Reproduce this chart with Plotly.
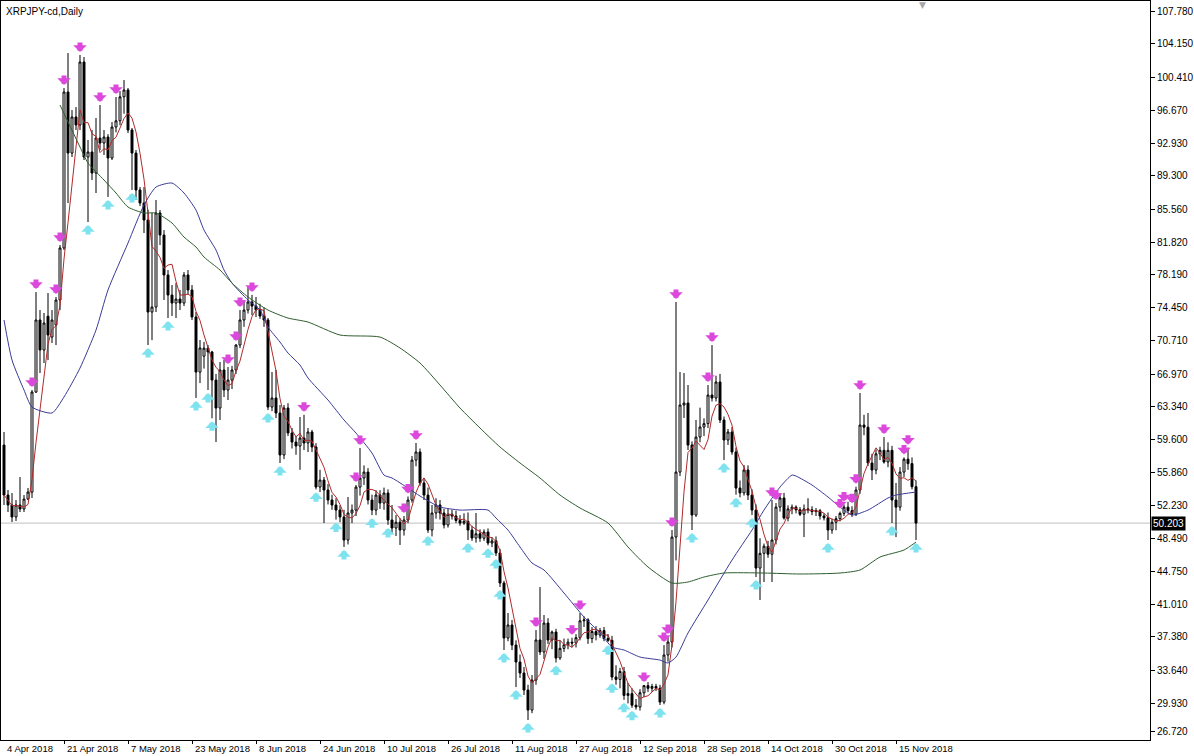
import pandas as pd
import plotly.graph_objects as go

# ---------------- data (XRPJPY daily, 6 Apr 2018 .. 20 Nov 2018) ----------------
start_date = "2018-04-06"
n_bars = 229

opens = [
58.99, 53.36, 52.24, 50.89, 52.24, 51.79, 52.91, 53.70, 64.96, 73.07,
69.69, 73.50, 71.15, 72.51, 75.32, 81.18, 98.74, 91.87, 95.93, 95.03,
102.12, 91.42, 91.99, 89.62, 93.56, 93.00, 93.67, 91.31, 94.80, 95.50,
98.20, 98.97, 94.46, 91.87, 87.71, 86.24, 84.33, 73.97, 74.53, 85.12,
82.64, 78.14, 75.88, 74.98, 75.43, 74.98, 78.14, 76.45, 73.41, 67.21,
69.00, 69.90, 69.47, 66.31, 63.16, 67.44, 65.19, 66.31, 67.44, 70.25,
73.07, 74.19, 75.10, 74.64, 74.20, 73.52, 73.07, 63.27, 64.29, 62.60,
57.87, 63.16, 60.35, 59.33, 58.88, 59.78, 59.22, 60.46, 58.77, 54.26,
55.05, 53.93, 52.80, 52.24, 51.67, 50.89, 48.30, 51.34, 51.67, 54.26,
55.28, 55.95, 52.80, 51.67, 53.36, 52.46, 53.59, 50.55, 49.65, 50.30,
49.42, 50.55, 52.80, 57.30, 58.21, 54.72, 53.36, 49.42, 51.34, 52.24,
51.34, 49.99, 51.20, 51.00, 50.50, 50.20, 50.40, 49.42, 48.52, 49.00,
48.50, 49.20, 47.96, 48.20, 46.83, 43.45, 37.26, 38.73, 36.47, 34.56,
33.32, 31.41, 29.15, 32.53, 37.04, 35.69, 38.95, 37.04, 37.94, 35.01,
36.10, 36.50, 36.80, 36.70, 37.30, 39.20, 39.30, 37.20, 38.00, 37.60,
38.10, 37.20, 37.00, 32.87, 32.60, 33.50, 30.80, 31.00, 29.70, 29.50,
31.10, 31.90, 31.60, 31.80, 31.60, 30.05, 35.35, 36.81, 48.63, 55.95,
63.50, 63.72, 58.99, 51.11, 59.89, 61.02, 61.40, 64.62, 64.29, 66.09,
61.81, 59.56, 60.46, 58.21, 54.15, 53.60, 56.18, 53.36, 51.67, 45.14,
46.80, 47.60, 46.70, 48.30, 52.01, 53.03, 50.77, 51.80, 52.00, 51.70,
51.20, 51.80, 51.70, 51.50, 51.60, 51.00, 50.80, 49.42, 50.30, 50.70,
51.30, 52.00, 51.60, 51.20, 53.93, 61.24, 61.00, 56.97, 56.18, 58.00,
58.40, 57.08, 58.40, 52.80, 52.00, 55.95, 57.40, 56.90, 54.30]

highs = [
60.46, 53.93, 53.59, 52.80, 55.39, 53.36, 54.15, 65.19, 76.22, 74.19,
73.86, 76.11, 74.19, 75.66, 81.51, 99.19, 103.13, 96.71, 97.05, 102.91,
102.68, 93.34, 94.46, 95.81, 97.28, 94.46, 94.00, 95.36, 98.18, 98.85,
100.09, 99.19, 94.69, 92.21, 88.04, 88.04, 85.50, 85.12, 86.58, 85.45,
83.20, 78.70, 77.01, 77.23, 76.45, 78.47, 78.70, 77.01, 73.97, 70.82,
70.60, 70.25, 69.60, 67.00, 68.34, 68.60, 67.78, 67.90, 70.36, 74.19,
75.32, 76.90, 75.90, 75.66, 74.90, 74.50, 73.30, 67.21, 67.44, 63.50,
63.50, 63.70, 60.91, 60.00, 62.15, 62.40, 60.91, 60.70, 59.20, 56.20,
55.40, 54.60, 53.40, 53.00, 52.20, 51.70, 53.14, 52.30, 54.49, 58.66,
56.70, 56.40, 53.40, 53.90, 53.90, 54.20, 54.00, 52.24, 51.11, 50.77,
51.00, 53.20, 57.75, 59.22, 58.60, 55.30, 54.20, 52.24, 53.00, 52.80,
51.80, 51.80, 51.70, 51.60, 51.10, 51.30, 51.40, 49.90, 51.34, 49.50,
49.50, 49.60, 48.60, 48.70, 47.30, 43.70, 40.08, 39.30, 37.00, 35.40,
34.00, 32.00, 33.09, 38.16, 43.00, 39.85, 39.50, 38.10, 38.30, 37.00,
37.20, 37.20, 37.30, 37.70, 40.08, 39.70, 39.50, 38.50, 38.60, 38.40,
38.50, 37.70, 37.50, 34.20, 33.90, 34.00, 32.20, 31.60, 30.40, 31.50,
31.97, 32.30, 32.10, 32.10, 32.00, 36.47, 37.37, 49.42, 75.10, 67.21,
67.10, 65.75, 59.40, 61.81, 63.20, 62.00, 65.75, 70.25, 66.80, 67.00,
62.20, 60.80, 61.00, 58.70, 55.00, 56.74, 56.70, 54.00, 52.30, 48.50,
47.90, 48.20, 52.80, 52.46, 53.59, 53.60, 52.20, 52.30, 52.20, 52.00,
52.30, 53.00, 52.10, 51.90, 51.80, 51.30, 51.40, 50.70, 51.00, 51.50,
52.30, 52.60, 52.10, 54.30, 64.85, 62.40, 62.60, 58.00, 58.50, 58.80,
59.89, 59.30, 58.90, 54.72, 56.50, 57.60, 58.70, 57.60, 55.00]

lows = [
52.24, 51.45, 50.32, 50.44, 51.45, 51.45, 52.80, 53.03, 64.85, 67.10,
68.23, 68.56, 70.48, 70.25, 74.19, 80.95, 86.24, 91.42, 94.46, 94.46,
91.08, 84.10, 88.83, 87.37, 92.21, 91.65, 86.92, 91.08, 94.20, 95.00,
96.30, 94.12, 87.71, 86.58, 85.90, 82.86, 70.25, 70.80, 73.97, 81.51,
75.32, 73.29, 73.52, 73.29, 74.19, 74.64, 75.90, 73.07, 64.29, 65.97,
67.60, 65.19, 62.00, 59.33, 61.81, 64.40, 64.06, 65.30, 67.00, 69.90,
72.30, 73.80, 73.60, 73.40, 73.20, 72.30, 62.93, 62.80, 62.03, 56.97,
57.40, 60.00, 58.60, 57.90, 56.20, 58.43, 58.20, 58.20, 54.00, 53.70,
50.21, 52.30, 51.70, 50.60, 50.30, 47.51, 47.80, 50.20, 51.00, 53.30,
54.50, 52.30, 51.10, 51.10, 51.80, 51.70, 50.00, 49.10, 48.75, 47.74,
48.80, 50.20, 52.50, 56.60, 54.40, 52.80, 49.10, 48.70, 50.70, 50.60,
49.60, 49.70, 50.60, 50.20, 49.90, 50.00, 48.30, 48.20, 48.00, 48.10,
48.20, 47.70, 47.50, 46.49, 43.00, 35.91, 36.90, 35.90, 31.74, 32.76,
30.84, 28.03, 28.80, 32.00, 35.35, 34.90, 36.60, 36.00, 34.50, 34.80,
35.70, 36.00, 36.20, 36.20, 37.00, 38.50, 36.60, 36.70, 37.00, 37.30,
36.90, 36.80, 32.50, 32.00, 31.60, 30.30, 29.90, 29.40, 29.20, 29.10,
30.60, 31.20, 31.20, 31.30, 29.72, 29.80, 34.60, 36.20, 46.00, 55.50,
62.03, 58.43, 49.42, 50.90, 59.30, 60.00, 60.90, 63.90, 63.90, 61.47,
57.30, 59.00, 57.90, 53.40, 53.10, 53.30, 52.80, 51.11, 44.13, 41.54,
43.57, 46.30, 43.57, 47.80, 51.50, 50.60, 50.40, 51.20, 51.30, 51.00,
48.63, 51.30, 51.10, 51.00, 50.60, 50.50, 48.30, 49.00, 49.40, 50.40,
51.00, 51.30, 50.90, 51.00, 53.50, 60.10, 56.63, 55.05, 55.70, 57.30,
56.90, 56.50, 50.21, 48.63, 51.60, 55.40, 56.20, 54.00, 48.30]

closes = [
53.36, 52.24, 50.89, 52.24, 51.79, 52.91, 53.70, 64.96, 73.07, 69.69,
72.73, 71.38, 73.07, 75.32, 81.18, 98.74, 91.87, 95.93, 95.03, 102.12,
91.42, 91.99, 89.62, 93.56, 93.00, 93.67, 91.31, 94.80, 95.50, 98.20,
98.97, 94.46, 91.87, 87.71, 86.24, 84.33, 73.97, 74.53, 85.12, 82.64,
78.14, 75.88, 74.98, 75.43, 74.98, 78.14, 76.45, 73.41, 67.21, 69.92,
69.90, 69.47, 66.31, 63.16, 67.44, 65.19, 66.31, 67.44, 70.25, 73.07,
74.19, 75.10, 74.64, 74.20, 73.52, 73.07, 63.27, 64.29, 62.60, 57.87,
63.16, 60.35, 59.33, 58.88, 59.78, 59.22, 60.46, 58.77, 54.26, 55.05,
53.93, 52.80, 52.24, 51.67, 50.89, 48.30, 51.34, 51.67, 54.26, 55.28,
55.95, 52.80, 51.67, 53.36, 52.46, 53.59, 50.55, 49.65, 50.30, 49.42,
50.55, 52.80, 57.30, 58.21, 54.72, 53.36, 49.42, 51.34, 52.24, 51.34,
49.99, 51.20, 51.00, 50.50, 50.20, 50.40, 49.42, 48.52, 49.00, 48.50,
49.20, 47.96, 48.20, 46.83, 43.45, 37.26, 38.73, 36.47, 34.56, 33.32,
31.41, 29.15, 32.53, 37.04, 35.69, 38.95, 37.04, 37.94, 35.01, 36.10,
36.50, 36.80, 36.70, 37.30, 39.20, 39.30, 37.20, 38.00, 37.60, 38.10,
37.20, 37.00, 32.87, 32.60, 33.50, 30.80, 31.00, 29.70, 29.50, 31.10,
31.90, 31.60, 31.80, 31.60, 30.05, 35.35, 36.81, 48.63, 55.95, 63.50,
63.72, 58.99, 51.11, 59.89, 61.02, 61.40, 64.62, 64.29, 66.09, 61.81,
59.56, 60.46, 58.21, 54.15, 53.60, 56.18, 53.36, 51.67, 45.14, 46.80,
47.60, 46.70, 48.30, 52.01, 53.03, 50.77, 51.80, 52.00, 51.70, 51.20,
51.80, 51.70, 51.50, 51.60, 51.00, 50.80, 49.42, 50.30, 50.70, 51.30,
52.00, 51.60, 51.20, 53.93, 61.24, 61.00, 56.97, 56.18, 58.00, 58.40,
57.08, 58.40, 52.80, 52.00, 55.95, 57.40, 56.90, 54.30, 50.203]

# slow moving averages (bar index, value)
blue_idx = [0, 2, 5, 7, 12, 15, 19, 23, 26, 31, 35, 38, 42, 45, 48, 50, 53, 55, 57, 61,
            64, 66, 69, 71, 74, 76, 81, 85, 88, 92, 95, 97, 101, 104, 107, 109, 114, 121, 123, 126,
            129, 132, 135, 140, 145, 149, 152, 155, 159, 164, 166, 168, 171, 176, 182, 187, 190, 194, 197, 198,
            202, 206, 209, 212, 216, 221, 223, 228]
blue_val = [73.07, 68.56, 65.19, 63.27, 62.60, 64.40, 67.66, 71.94, 76.45, 81.74,
            86.02, 88.04, 88.49, 87.37, 85.45, 83.20, 80.95, 78.70, 77.23, 75.32,
            74.19, 72.28, 70.59, 69.35, 68.00, 66.54, 64.06, 61.81, 60.34, 58.09,
            55.61, 55.28, 54.15, 53.25, 52.46, 52.01, 51.67, 51.67, 50.77, 49.42,
            47.51, 45.71, 44.92, 42.33, 39.63, 37.83, 36.25, 35.91, 35.12, 34.78,
            34.45, 35.12, 37.83, 41.54, 46.04, 49.42, 51.67, 54.26, 55.61, 55.50,
            54.49, 53.14, 52.01, 51.11, 51.67, 53.03, 53.36, 53.70]

green_idx = [14, 19, 21, 25, 28, 31, 35, 38, 42, 45, 48, 50, 54, 57, 61, 66, 71, 76, 84, 94,
             99, 104, 109, 114, 119, 124, 129, 134, 139, 144, 151, 156, 161, 167, 171, 175, 180, 190, 199, 209,
             214, 219, 225, 228]
green_val = [97.28, 92.55, 90.75, 88.83, 87.37, 85.79, 85.12, 85.12, 83.99, 82.41,
             81.29, 80.16, 78.70, 77.23, 75.66, 74.19, 73.29, 72.84, 71.38, 71.15,
             69.92, 68.23, 65.75, 63.16, 60.91, 58.77, 56.97, 55.28, 53.36, 51.90,
             50.21, 47.51, 45.26, 43.45, 43.57, 44.13, 44.58, 44.58, 44.47, 44.58,
             44.92, 46.38, 47.17, 48.07]

# fractal signals (bar indices)
fractal_up_idx = [7, 8, 13, 14, 15, 19, 24, 28, 56, 58, 59, 62, 75, 88, 89, 100, 101, 103, 133, 142,
                  144, 160, 165, 166, 167, 168, 176, 177, 192, 193, 209, 210, 212, 213, 214, 220, 225, 226]
fractal_dn_idx = [21, 26, 32, 36, 41, 48, 51, 52, 66, 69, 78, 83, 85, 92, 96, 106, 116, 121, 123, 124,
                  125, 128, 131, 138, 151, 152, 155, 157, 164, 172, 180, 183, 187, 188, 206, 222, 228]

price_ticks = [107.780, 104.150, 100.410, 96.670, 92.930, 89.300, 85.560, 81.820, 78.190, 74.450,
               70.710, 66.970, 63.340, 59.600, 55.860, 52.230, 48.490, 44.750, 41.010, 37.380,
               33.640, 29.930, 26.720]
date_labels = ["2018-04-21", "2018-05-07", "2018-05-23", "2018-06-08", "2018-06-24", "2018-07-10",
               "2018-07-26", "2018-08-11", "2018-08-27", "2018-09-12", "2018-09-28", "2018-10-14",
               "2018-10-30", "2018-11-15"]
first_label = "4 Apr 2018"
last_price = 50.203
title_text = "XRPJPY-cd,Daily"

# ---------------- build ----------------
dates = pd.date_range(start_date, periods=n_bars, freq="D")
close_s = pd.Series(closes)
fast_ma = close_s.rolling(5, min_periods=1).mean()

UP_COLOR = "#db48db"
DN_COLOR = "#7fe3ef"
FONT = "Liberation Sans"

fig = go.Figure()
fig.add_trace(go.Candlestick(
    x=dates, open=opens, high=highs, low=lows, close=closes,
    increasing=dict(line=dict(color="black", width=1), fillcolor="white"),
    decreasing=dict(line=dict(color="black", width=1), fillcolor="black"),
    whiskerwidth=0, showlegend=False))

fig.add_trace(go.Scatter(x=dates, y=fast_ma, mode="lines",
                         line=dict(color="#b02a2a", width=1), hoverinfo="skip"))
fig.add_trace(go.Scatter(x=dates[blue_idx], y=blue_val, mode="lines",
                         line=dict(color="#3a3a98", width=1, shape="spline", smoothing=0.6),
                         hoverinfo="skip"))
fig.add_trace(go.Scatter(x=dates[green_idx], y=green_val, mode="lines",
                         line=dict(color="#2f5e2f", width=1, shape="spline", smoothing=0.6),
                         hoverinfo="skip"))

x0 = dates[0] - pd.Timedelta(hours=18)
x1 = dates[0] + pd.Timedelta(hours=int(286.5 * 24))

fig.add_shape(type="line", xref="paper", x0=0, x1=1, yref="y", y0=last_price, y1=last_price,
              line=dict(color="#c0c0c0", width=1), layer="below")

annotations = [
    dict(x=1, xref="paper", y=last_price, yref="y", text=f"{last_price:.3f}", showarrow=False,
         xanchor="left", xshift=1, bgcolor="black", font=dict(color="white", size=10, family=FONT),
         borderpad=1),
    dict(x=0, xref="paper", y=1, yref="paper", text=title_text, showarrow=False, xanchor="left",
         yanchor="top", xshift=3, yshift=-3, font=dict(size=10, color="black", family=FONT)),
    dict(x=0, xref="paper", y=0, yref="paper", text=first_label, showarrow=False, xanchor="left",
         yanchor="top", xshift=4, yshift=-1, font=dict(size=9.5, color="black", family=FONT)),
    dict(x=921 / 1149, xref="paper", y=1, yref="paper", text="▼", showarrow=False, xanchor="center",
         yanchor="top", yshift=3, font=dict(size=9, color="#a8a8a8", family="DejaVu Sans")),
]
for d in date_labels:
    ts = pd.Timestamp(d)
    annotations.append(dict(x=ts, xref="x", y=0, yref="paper", text=f"{ts.day} {ts.strftime('%b %Y')}",
                            showarrow=False, xanchor="left", yanchor="top", xshift=1, yshift=-1,
                            font=dict(size=9.5, color="black", family=FONT)))

# fractal arrows: thick arrows pointing at the bar's high (down) / low (up)
for i in fractal_up_idx:
    annotations.append(dict(x=dates[i], y=highs[i], xref="x", yref="y", text="", showarrow=True,
                            ax=0, ay=-14, arrowhead=1, arrowsize=0.45, arrowwidth=5,
                            arrowcolor=UP_COLOR, standoff=3))
for i in fractal_dn_idx:
    annotations.append(dict(x=dates[i], y=lows[i], xref="x", yref="y", text="", showarrow=True,
                            ax=0, ay=14, arrowhead=1, arrowsize=0.45, arrowwidth=5,
                            arrowcolor=DN_COLOR, standoff=3))

fig.update_layout(
    width=1194, height=756, margin=dict(l=1, r=44, t=1, b=16, autoexpand=False),
    paper_bgcolor="white", plot_bgcolor="white", showlegend=False,
    annotations=annotations,
    xaxis=dict(type="date", range=[x0, x1], showgrid=False, zeroline=False, showline=True,
               linecolor="black", linewidth=1, mirror=True, ticks="outside", ticklen=3,
               tickcolor="black", tickvals=[pd.Timestamp(d) for d in date_labels],
               showticklabels=False, rangeslider=dict(visible=False), automargin=False),
    yaxis=dict(side="right", range=[25.78, 108.99], tickvals=price_ticks,
               ticktext=[f"{v:.3f}" for v in price_ticks], ticks="outside", ticklen=4,
               tickcolor="black", tickfont=dict(family=FONT, size=10, color="black"),
               showgrid=False, zeroline=False, showline=True, mirror=True, linecolor="black",
               automargin=False),
)

fig.write_html("out.html", config={"displayModeBar": False},
               post_script="document.body.style.margin='0px';document.body.style.overflow='hidden';")
